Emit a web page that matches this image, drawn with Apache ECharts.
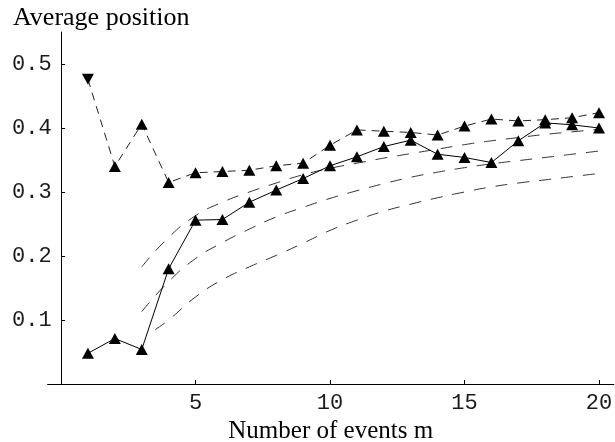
<!DOCTYPE html>
<html>
<head>
<meta charset="utf-8">
<script src="https://cdn.jsdelivr.net/npm/echarts@6/dist/echarts.min.js"></script>
<style>html,body{margin:0;padding:0;background:#fff;}#c{width:615px;height:442px;}</style>
</head>
<body>
<div id="c"></div>
<script>
// Data
const mValues = [1,2,3,4,5,6,7,8,9,10,11,12,13,14,15,16,17,18,19,20];
const solidSeries = [0.048,0.071,0.054,0.180,0.256,0.257,0.284,0.303,0.321,0.341,0.355,0.371,0.381,0.359,0.354,0.346,0.380,0.408,0.405,0.400];
const upperSeries = [0.476,0.340,0.406,0.315,0.330,0.332,0.334,0.341,0.345,0.373,0.397,0.395,0.393,0.389,0.403,0.414,0.411,0.413,0.416,0.424];
const curveM = [3,4,5,6,7,8,9,10,11,12,13,14,15,16,17,18,19,20];
const curveTop = [0.183,0.229,0.263,0.284,0.300,0.314,0.327,0.337,0.345,0.353,0.360,0.367,0.374,0.380,0.385,0.390,0.394,0.398];
const curveMid = [0.113,0.160,0.196,0.221,0.242,0.261,0.276,0.290,0.302,0.313,0.323,0.331,0.338,0.344,0.349,0.354,0.359,0.364];
const curveLowM = [3.5,4,5,6,7,8,9,10,11,12,13,14,15,16,17,18,19,20];
const curveLow = [0.085,0.100,0.136,0.163,0.183,0.201,0.220,0.240,0.256,0.270,0.281,0.291,0.300,0.308,0.314,0.319,0.324,0.329];
const xTicks = [5,10,15,20];
const yTicks = [0.1,0.2,0.3,0.4,0.5];

const zip = (xs, ys) => xs.map((x, i) => [x, ys[i]]);

const chart = echarts.init(document.getElementById('c'), null, {renderer: 'canvas'});
const tickFont = {fontFamily: 'Liberation Mono', fontSize: 22, color: '#1a1a1a'};
chart.setOption({
  animation: false,
  backgroundColor: '#fff',
  title: {
    text: 'Average position',
    left: 8, top: 0,
    textStyle: {fontFamily: 'Liberation Serif', fontSize: 26, fontWeight: 'normal', color: '#000'}
  },
  grid: {left: 47.6, right: 1.2, top: 32, bottom: 58, containLabel: false, outerBoundsMode: 'none'},
  xAxis: {
    type: 'value', min: -0.5, max: 20.55,
    name: 'Number of events m', nameLocation: 'middle', nameGap: 32,
    nameTextStyle: {fontFamily: 'Liberation Serif', fontSize: 25, color: '#000'},
    axisLine: {onZero: true, lineStyle: {color: '#000', width: 1}},
    axisTick: {show: true, inside: true, length: 4, customValues: xTicks, lineStyle: {color: '#000'}},
    axisLabel: {customValues: xTicks, margin: 8, ...tickFont},
    splitLine: {show: false}
  },
  yAxis: {
    type: 'value', min: 0, max: 0.55,
    axisLine: {show: true, onZero: true, lineStyle: {color: '#000', width: 1}},
    axisTick: {show: true, inside: true, length: 4, customValues: yTicks, lineStyle: {color: '#000'}},
    axisLabel: {customValues: yTicks, margin: -4, formatter: v => v.toFixed(1), ...tickFont},
    splitLine: {show: false}
  },
  series: [
    {
      type: 'line', data: zip(curveM, curveTop), smooth: true, symbol: 'none',
      lineStyle: {color: '#333', width: 1, type: [12, 10]}, z: 1
    },
    {
      type: 'line', data: zip(curveM, curveMid), smooth: true, symbol: 'none',
      lineStyle: {color: '#333', width: 1, type: [12, 10]}, z: 1
    },
    {
      type: 'line', data: zip(curveLowM, curveLow), smooth: true, symbol: 'none',
      lineStyle: {color: '#333', width: 1, type: [12, 10]}, z: 1
    },
    {
      type: 'line',
      data: zip(mValues, upperSeries).map((p, i) => i === 0 ? {value: p, symbolRotate: 180} : p),
      symbol: 'triangle', symbolSize: [12, 11],
      itemStyle: {color: '#000'},
      lineStyle: {color: '#222', width: 1, type: [8, 6]}, z: 3
    },
    {
      type: 'line', data: zip(mValues, solidSeries),
      symbol: 'triangle', symbolSize: [12, 11],
      itemStyle: {color: '#000'},
      lineStyle: {color: '#000', width: 1, type: 'solid'}, z: 4
    }
  ]
});
</script>
</body>
</html>
